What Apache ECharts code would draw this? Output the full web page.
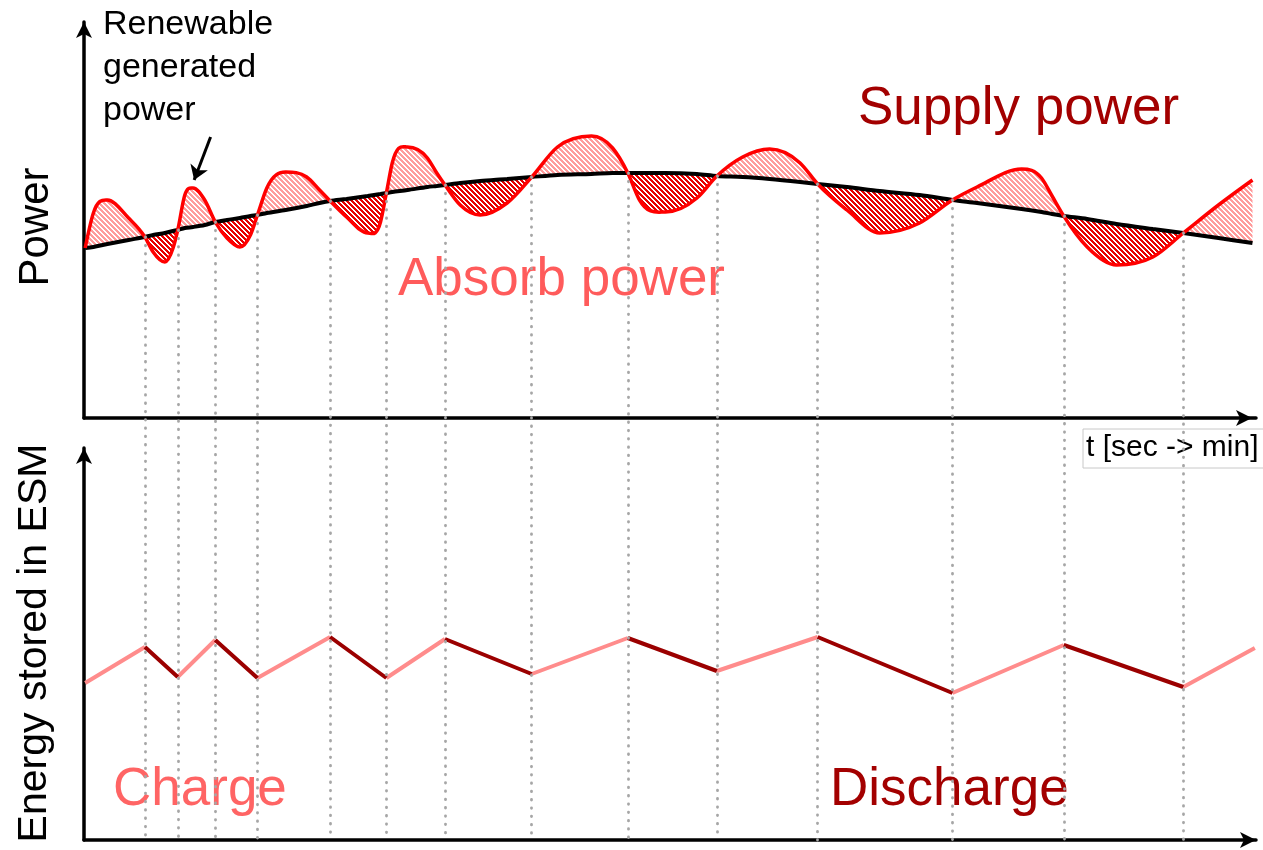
<!DOCTYPE html>
<html>
<head>
<meta charset="utf-8">
<title>Renewable power and ESM energy</title>
<script src="https://cdn.jsdelivr.net/npm/echarts@6/dist/echarts.min.js"></script>
<style>
  html, body { margin: 0; padding: 0; background: #fff; }
  #chart { width: 1263px; height: 850px; }
</style>
</head>
<body>
<div id="chart"></div>
<script>
(function (window, document) {
  // time axis in arbitrary units (0..100)
  const tPower = [0.1, 0.8, 2.0, 3.8, 5.2, 5.9, 6.9, 7.6, 8.0, 8.6, 9.3, 10.3, 11.2, 12.2, 13.3, 14.2, 14.8,
    15.6, 17.2, 19.0, 20.1, 21.0, 22.4, 24.2, 25.3, 25.8, 26.3, 27.6, 29.3, 30.1, 30.8, 32.1, 33.8, 36.1,
    38.2, 40.4, 43.3, 45.1, 46.4, 47.4, 49.6, 52.3, 54.0, 56.2, 58.5, 61.1, 62.6, 65.1, 67.9, 71.3, 74.1,
    76.2, 80.0, 81.7, 82.6, 83.6, 85.6, 88.1, 91.2, 93.8, 96.8, 99.7];

  // renewable generated power (red curve)
  const powerRenewable = [42.5, 51.25, 54.5, 50, 45.25, 41.5, 39, 42.5, 47, 55.75, 57.5, 54.5, 49, 45, 42.75,
    45.75, 50.75, 57.5, 61.5, 60.25, 57, 54.25, 50.25, 46.25, 49, 56.25, 63.75, 67.75, 65, 61.25, 58.25,
    53.25, 50.75, 53.75, 60.25, 67.75, 70.5, 67.5, 61.25, 54.5, 51.5, 55, 60.5, 65.25, 67.25, 63.75, 58.5,
    52, 46.25, 48.75, 54.5, 57.75, 62.25, 60, 55.5, 50.5, 42.75, 38.25, 40.25, 46.25, 53.25, 59.5];

  // smoothed output power (black curve), same time points
  const powerBase = [42.5, 42.75, 43.5, 44.5, 45.25, 45.75, 46.25, 46.75, 47, 47.5, 47.75, 48.25, 49, 49.5,
    50, 50.5, 50.75, 51.25, 52, 53, 53.75, 54.25, 54.75, 55.5, 56, 56.25, 56.5, 57, 57.75, 58, 58.25, 58.75,
    59.25, 59.75, 60.25, 60.75, 61, 61.25, 61.25, 61.25, 61.25, 61, 60.5, 60.25, 59.75, 59, 58.5, 57.75,
    56.75, 55.75, 54.5, 53.75, 52.25, 51.5, 51, 50.5, 49.75, 48.5, 47.25, 46.25, 45, 43.75];

  // points where the two curves cross (charge <-> discharge switch)
  const tSwitch = [5.2, 8.0, 11.2, 14.8, 21.0, 25.8, 30.8, 38.2, 46.4, 54.0, 62.6, 74.1, 83.6, 93.8];

  // energy stored in the ESM
  const tEnergy = [0.1, 5.2, 8.0, 11.2, 14.8, 21.0, 25.8, 30.8, 38.2, 46.4, 54.0, 62.6, 74.1, 83.6, 93.8, 99.9];
  const energyStored = [39.25, 48.25, 40.75, 50, 40.5, 50.75, 40.5, 50.25, 41.5, 50.5, 42.25, 50.75, 36.75,
    48.75, 38.25, 48];

  // annotation arrow (from label to the peak it points at)
  const arrowFrom = [10.8, 70.25];
  const arrowTo = [9.4, 59.5];

  const FONT = '"Liberation Sans", Arial, sans-serif';

  function hatch(color, period, width) {
    const canvas = document.createElement('canvas');
    canvas.width = period;
    canvas.height = period;
    const ctx = canvas.getContext('2d');
    ctx.fillStyle = color;
    for (let y = 0; y < period; y++) {
      for (let x = 0; x < period; x++) {
        if ((((x - y) % period) + period) % period < width) {
          ctx.fillRect(x, y, 1, 1);
        }
      }
    }
    return { image: canvas, repeat: 'repeat' };
  }

  const supplyHatch = hatch('#ff9c9c', 5, 3);
  const absorbHatch = hatch('#e80000', 5, 3);

  // cubic slopes through pixel points: flat at local extrema, three-point estimate elsewhere
  function curveSlopes(pts) {
    const n = pts.length;
    const d = [];
    const m = new Array(n);
    for (let i = 0; i < n - 1; i++) {
      d[i] = (pts[i + 1][1] - pts[i][1]) / (pts[i + 1][0] - pts[i][0]);
    }
    for (let i = 1; i < n - 1; i++) {
      const h0 = pts[i][0] - pts[i - 1][0];
      const h1 = pts[i + 1][0] - pts[i][0];
      const s0 = d[i - 1];
      const s1 = d[i];
      m[i] = s0 * s1 <= 0 ? 0 : (s0 * h1 + s1 * h0) / (h0 + h1);
    }
    m[0] = (3 * d[0] - m[1]) / 2;
    m[n - 1] = (3 * d[n - 2] - m[n - 2]) / 2;
    return m;
  }

  function curvePath(pts, slopes, from, to) {
    let path = '';
    const step = to >= from ? 1 : -1;
    for (let i = from; i !== to; i += step) {
      const j = i + step;
      const h = (pts[j][0] - pts[i][0]) / 3;
      path += ' C' + (pts[i][0] + h) + ',' + (pts[i][1] + slopes[i] * h) + ' ' +
        (pts[j][0] - h) + ',' + (pts[j][1] - slopes[j] * h) + ' ' + pts[j][0] + ',' + pts[j][1];
    }
    return path;
  }

  const diff = powerRenewable.map((v, i) => v - powerBase[i]);
  const lobes = [];
  let lobeStart = 0;
  for (let i = 1; i < tPower.length; i++) {
    if (diff[i] === 0 || i === tPower.length - 1) {
      lobes.push({ from: lobeStart, to: i, supply: diff[lobeStart + 1] > 0 });
      lobeStart = i;
    }
  }

  const baseData = tPower.map((t, i) => [t, powerBase[i]]);

  const chargeData = [];
  const dischargeData = [];
  for (let i = 0; i < tEnergy.length - 1; i++) {
    const target = energyStored[i + 1] > energyStored[i] ? chargeData : dischargeData;
    target.push([tEnergy[i], energyStored[i]], [tEnergy[i + 1], energyStored[i + 1]], [tEnergy[i + 1], '-']);
  }

  const switchLines = tSwitch.map((t) => [
    { coord: [t, powerBase[tPower.indexOf(t)]] },
    { coord: [t, -105.5] }
  ]);

  function axisLine(offset) {
    return {
      show: true,
      onZero: false,
      symbol: ['none', 'arrow'],
      symbolSize: [12, 16],
      symbolOffset: [0, offset || 0],
      lineStyle: { color: '#000', width: 3.5 }
    };
  }

  const hidden = { axisLine: { show: false }, axisTick: { show: false }, axisLabel: { show: false }, splitLine: { show: false } };
  const bare = { axisTick: { show: false }, axisLabel: { show: false }, splitLine: { show: false } };

  function label(text, x, y, size, color, extra, align) {
    const a = align || 'left';
    return Object.assign({
      type: 'text',
      x: x,
      y: y,
      silent: true,
      style: {
        text: text,
        font: size + 'px ' + FONT,
        fill: color,
        lineHeight: Math.round(size * 1.27),
        align: a,
        verticalAlign: 'middle',
        textAlign: a,
        textVerticalAlign: 'middle'
      }
    }, extra || {});
  }

  const chart = echarts.init(document.getElementById('chart'), null, { renderer: 'canvas' });

  chart.setOption({
    animation: false,
    backgroundColor: '#fff',
    grid: [
      { left: 84, top: 22, width: 1172, height: 396 },
      { left: 84, top: 448, width: 1172, height: 392 },
      { left: 84, top: 22, width: 1172, height: 818 }
    ],
    xAxis: [
      Object.assign({ type: 'value', gridIndex: 0, min: 0, max: 100, axisLine: axisLine(-4) }, bare),
      Object.assign({ type: 'value', gridIndex: 1, min: 0, max: 100, axisLine: axisLine(0) }, bare),
      Object.assign({ type: 'value', gridIndex: 2, min: 0, max: 100 }, hidden)
    ],
    yAxis: [
      Object.assign({ type: 'value', gridIndex: 0, min: 0, max: 99, axisLine: axisLine(0) }, bare),
      Object.assign({ type: 'value', gridIndex: 1, min: 0, max: 98, axisLine: axisLine(0) }, bare),
      Object.assign({ type: 'value', gridIndex: 2, min: -105.5, max: 99 }, hidden)
    ],
    graphic: [
      label('Renewable\ngenerated\npower', 103, 68, 34, '#000'),
      label('Supply power', 858, 109, 53, '#a30000'),
      label('Absorb power', 398, 280, 53, '#ff5b5b'),
      label('Charge', 113, 790, 53, '#ff6464'),
      label('Discharge', 830, 790, 53, '#a30000'),
      label('Power', 36, 227, 42, '#000', { rotation: Math.PI / 2 }, 'center'),
      label('Energy stored in ESM', 35, 643, 41, '#000', { rotation: Math.PI / 2 }, 'center'),
      {
        type: 'rect',
        silent: true,
        shape: { x: 1083, y: 429, width: 190, height: 39 },
        style: { fill: 'none', stroke: '#c8c8c8', lineWidth: 1 }
      },
      label('t [sec -> min]', 1086, 448, 30, '#000')
    ],
    series: [
      {
        type: 'line', xAxisIndex: 2, yAxisIndex: 2, data: [], silent: true,
        markLine: {
          silent: true, symbol: 'none', animation: false, label: { show: false },
          lineStyle: { color: '#a6a6a6', width: 2.8, type: [0.5, 7.8], cap: 'round' },
          data: switchLines
        }
      },
      {
        // hatched areas between the two power curves
        type: 'custom', xAxisIndex: 0, yAxisIndex: 0, silent: true, z: 2,
        data: lobes.map((l) => [tPower[l.from], powerBase[l.from]]),
        renderItem: function (params, api) {
          const lobe = lobes[params.dataIndex];
          const red = tPower.map((t, i) => api.coord([t, powerRenewable[i]]));
          const base = tPower.map((t, i) => api.coord([t, powerBase[i]]));
          const path = 'M' + red[lobe.from][0] + ',' + red[lobe.from][1] +
            curvePath(red, curveSlopes(red), lobe.from, lobe.to) +
            ' L' + base[lobe.to][0] + ',' + base[lobe.to][1] +
            curvePath(base, curveSlopes(base), lobe.to, lobe.from) + ' Z';
          return {
            type: 'path',
            shape: { pathData: path },
            style: { fill: lobe.supply ? supplyHatch : absorbHatch, stroke: 'none' }
          };
        }
      },
      {
        type: 'line', xAxisIndex: 0, yAxisIndex: 0, data: baseData, smooth: 0.3, symbol: 'none',
        silent: true, z: 3, lineStyle: { color: '#000', width: 4 },
        markLine: {
          silent: true, animation: false, symbol: ['none', 'arrow'], symbolSize: 14,
          label: { show: false }, lineStyle: { color: '#000', width: 3, type: 'solid' },
          data: [[{ coord: arrowFrom }, { coord: arrowTo }]]
        }
      },
      {
        // renewable generated power curve
        type: 'custom', xAxisIndex: 0, yAxisIndex: 0, silent: true, z: 4,
        data: [[tPower[0], powerRenewable[0]]],
        renderItem: function (params, api) {
          const red = tPower.map((t, i) => api.coord([t, powerRenewable[i]]));
          return {
            type: 'path',
            shape: { pathData: 'M' + red[0][0] + ',' + red[0][1] + curvePath(red, curveSlopes(red), 0, red.length - 1) },
            style: { fill: 'none', stroke: '#ff0000', lineWidth: 3.5, lineJoin: 'round' }
          };
        }
      },
      {
        type: 'line', xAxisIndex: 1, yAxisIndex: 1, data: chargeData, symbol: 'none', silent: true,
        lineStyle: { color: '#ff8c8c', width: 4 }
      },
      {
        type: 'line', xAxisIndex: 1, yAxisIndex: 1, data: dischargeData, symbol: 'none', silent: true,
        lineStyle: { color: '#9b0000', width: 4 }
      }
    ]
  });
})(window, document);
</script>
</body>
</html>
